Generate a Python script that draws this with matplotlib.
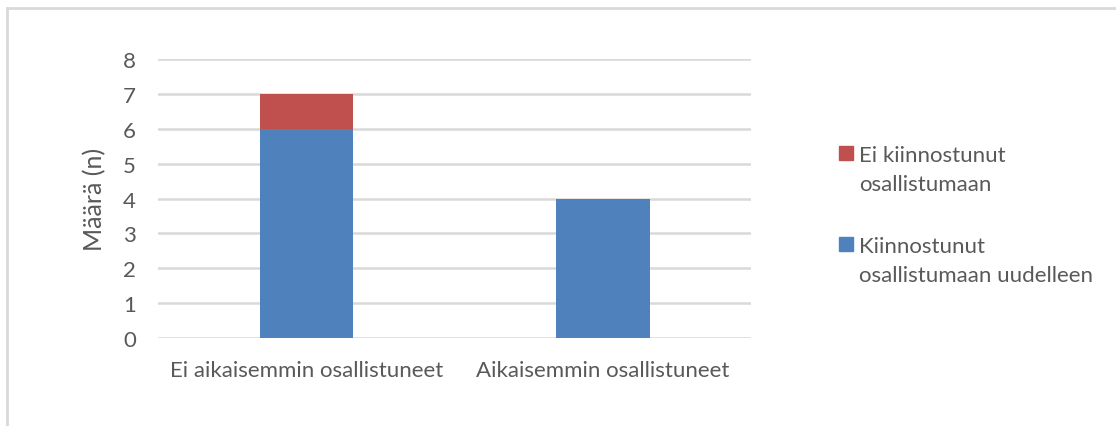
import matplotlib.pyplot as plt
from matplotlib.patches import Rectangle

plt.rcParams['font.family'] = ['Lato', 'DejaVu Sans']

categories = ["Ei aikaisemmin osallistuneet", "Aikaisemmin osallistuneet"]
interested = [6, 4]
not_interested = [1, 0]
series_labels = ["Kiinnostunut\nosallistumaan uudelleen", "Ei kiinnostunut\nosallistumaan"]
y_ticks = [0, 1, 2, 3, 4, 5, 6, 7, 8]

blue = "#4F81BD"
red = "#C0504D"
text_col = "#595959"
grid_col = "#D9D9D9"
fs = 16

W, H = 1116, 427
fig = plt.figure(figsize=(W / 100, H / 100), dpi=100)
ax = fig.add_axes([0.1416, 0.206, 0.5314, 0.653])

x = range(len(categories))
ax.bar(x, interested, width=0.315, color=blue, zorder=3)
ax.bar(x, not_interested, width=0.315, bottom=interested, color=red, zorder=3)

ax.set_xlim(-0.5, 1.5)
ax.set_ylim(0, 8)
ax.set_yticks(y_ticks)
ax.set_xticks(list(x))
ax.set_xticklabels(categories)
ax.yaxis.grid(True, color=grid_col, linewidth=1.8, zorder=0)
ax.set_axisbelow(True)
for s in ax.spines.values():
    s.set_visible(False)
ax.tick_params(axis='both', length=0, colors=text_col, labelsize=fs)
ax.tick_params(axis='y', pad=16)
ax.tick_params(axis='x', pad=16)
ax.set_ylabel("Määrä (n)", fontsize=18, color=text_col, labelpad=12)

# Outer chart frame
fig.patches.append(Rectangle((7 / W, -0.1), 1.2, 1 - 9 / H + 0.1,
                             transform=fig.transFigure, fill=False,
                             edgecolor="#D9D9D9", linewidth=2))

# Legend: swatch aligned with the first line of each two-line label
def px(xp, yp):
    return xp / W, 1 - yp / H

legend_items = [(red, series_labels[1], 147), (blue, series_labels[0], 238)]
for color, label, top in legend_items:
    sx, sy = px(839, top + 14)
    fig.patches.append(Rectangle((sx, sy), 14 / W, 14 / H,
                                 transform=fig.transFigure, color=color))
    for i, line in enumerate(label.split("\n")):
        tx, ty = px(859, top + 15 + i * 29.5)
        fig.text(tx, ty, line, fontsize=fs, color=text_col,
                 ha='left', va='baseline')

fig.savefig("out.png", dpi=100)
